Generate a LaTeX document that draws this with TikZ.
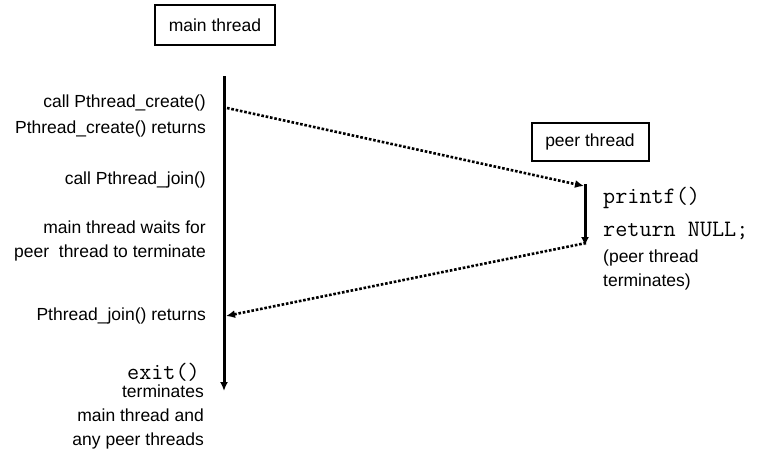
\documentclass[tikz,border=0pt]{standalone}
\usepackage{fontspec}
\setmainfont{Liberation Sans}
\usetikzlibrary{arrows.meta}
\tikzset{threadbox/.style={draw,line width=2pt,minimum width=120pt,minimum height=40pt,inner sep=0pt},
  lbl/.style={anchor=east,align=right,inner sep=0pt},
  peerlbl/.style={anchor=west,align=left,inner sep=0pt},
  lifeline/.style={line width=3pt,-{Latex[length=9pt,width=8pt]}},
  callarrow/.style={line width=2.6pt,dash pattern=on 2.6pt off 1.8pt,-{Latex[length=9pt,width=8pt]}},
}
\newcommand{\codefont}{\fontsize{23.5}{24}\ttfamily}

\begin{document}
\begin{tikzpicture}[x=1pt,y=-1pt,font=\fontsize{17.5}{24}\selectfont]
  \useasboundingbox (0,0) rectangle (761,466);
  % thread labels
  \node[threadbox] (mainbox) at (215,25) {main thread};
  \node[threadbox,minimum width=117pt,minimum height=38pt] (peerbox) at (590,142) {peer thread};
  % life lines
  \coordinate (mtop) at (224,76);
  \coordinate (mend) at (224,391);
  \coordinate (ptop) at (585,184);
  \coordinate (pend) at (585,246);
  \draw[lifeline] (mtop) -- (mend);
  \draw[lifeline] (ptop) -- (pend);
  % calls between threads
  \coordinate (create) at (227,108);
  \coordinate (peerin) at (584,186);
  \coordinate (peerout) at (586,243);
  \coordinate (joined) at (226,316);
  \draw[callarrow] (create) -- (peerin);
  \draw[callarrow] (peerout) -- (joined);
  % main thread steps
  \node[lbl] (callcreate) at (206,103) {call Pthread\_create()};
  \node[lbl] (createret) at (206,129) {Pthread\_create() returns};
  \node[lbl] (calljoin) at (206,180) {call Pthread\_join()};
  \node[lbl] (waits) at (206,241) {main thread waits for\\peer\ \ thread to terminate};
  \node[lbl] (joinret) at (206,316) {Pthread\_join() returns};
  \node[lbl,font=\codefont] (exitcall) at (200,372) {exit()};
  \node[lbl] (exitnote) at (204,417) {terminates\\main thread and\\any peer threads};
  % peer thread steps
  \node[peerlbl,font=\codefont] (printfcall) at (603,198) {printf()};
  \node[peerlbl,font=\codefont] (retnull) at (603,231) {return NULL;};
  \node[peerlbl] (peerend) at (603,270) {(peer thread\\terminates)};
\end{tikzpicture}
\end{document}
